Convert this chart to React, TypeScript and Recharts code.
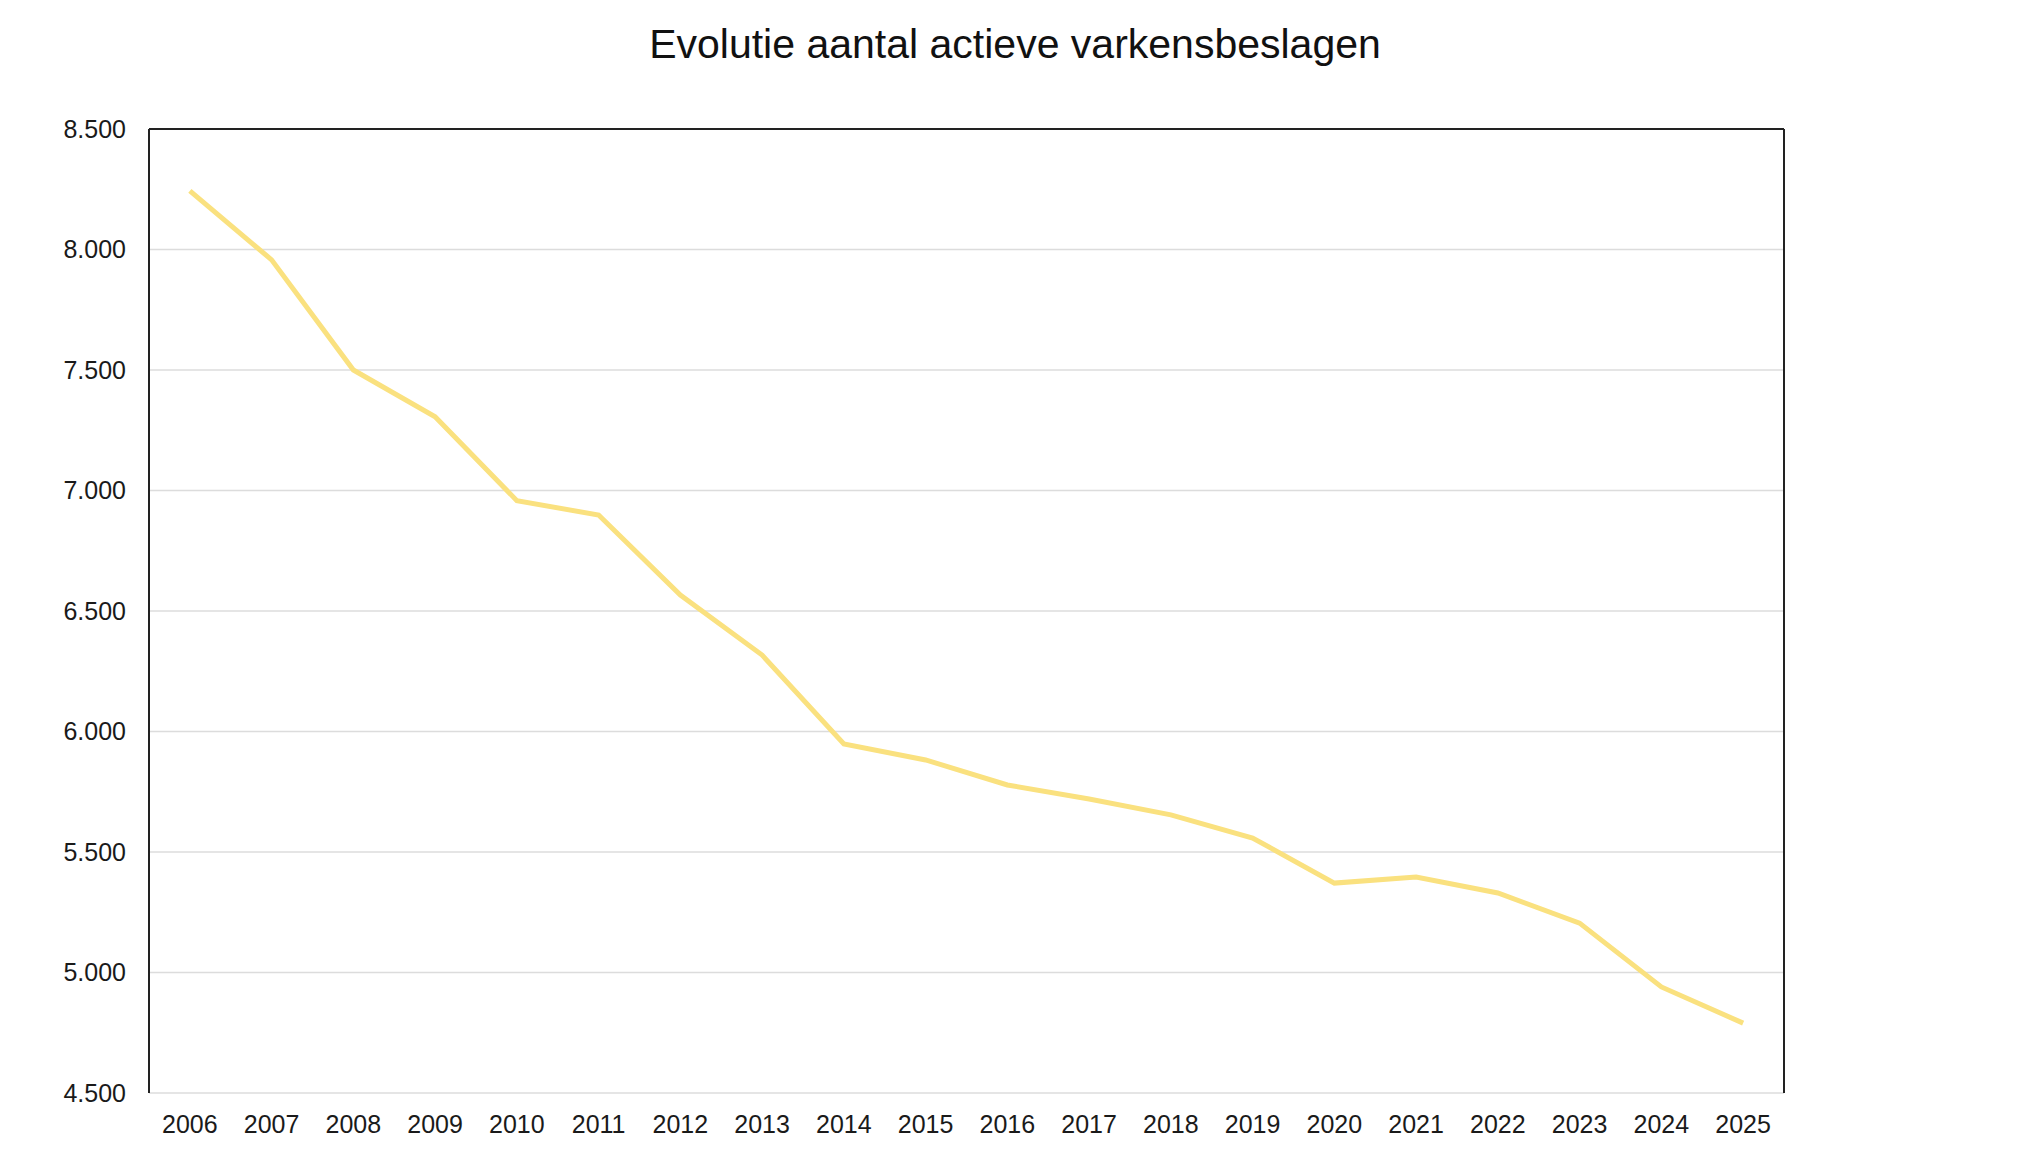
import { CartesianGrid, Line, LineChart, ReferenceLine, XAxis, YAxis } from "recharts";

// jaartallen en aantal actieve varkensbeslagen
const years = [
	"2006", "2007", "2008", "2009", "2010", "2011", "2012", "2013", "2014", "2015",
	"2016", "2017", "2018", "2019", "2020", "2021", "2022", "2023", "2024", "2025",
];
const beslagen = [
	8243, 7957, 7500, 7306, 6958, 6898, 6566, 6317, 5948, 5882,
	5778, 5720, 5654, 5558, 5371, 5396, 5330, 5205, 4940, 4790,
];
const yTicks = [4500, 5000, 5500, 6000, 6500, 7000, 7500, 8000, 8500];

const data = years.map((year, i) => ({ year, value: beslagen[i] }));

const font = '"Liberation Sans", Arial, sans-serif';

// 8500 -> "8.500"
const formatNl = (v: number) => {
	const thousands = Math.floor(v / 1000);
	const rest = String(v % 1000).padStart(3, "0");
	return `${thousands}.${rest}`;
};

export default function App() {
	return (
		<div style={{ position: "relative", width: 2030, height: 1160, background: "#fff" }}>
			<style>{"body{margin:0}"}</style>
			<div
				style={{
					position: "absolute",
					top: 24,
					left: 0,
					width: 2030,
					textAlign: "center",
					fontFamily: font,
					fontSize: 41,
					lineHeight: "41px",
					color: "#111",
				}}
			>
				Evolutie aantal actieve varkensbeslagen
			</div>
			<LineChart
				width={2030}
				height={1160}
				data={data}
				margin={{ top: 129, right: 236, bottom: 7, left: 9 }}
			>
				<CartesianGrid yAxisId="left" vertical={false} stroke="#dcdcdc" strokeWidth={1.5} />
				<XAxis
					dataKey="year"
					scale="band"
					interval={0}
					height={60}
					axisLine={false}
					tickLine={false}
					tickSize={0}
					tickMargin={22}
					tick={{ fill: "#1a1a1a", fontSize: 25, fontFamily: font }}
				/>
				<YAxis
					yAxisId="left"
					type="number"
					domain={[4500, 8500]}
					ticks={yTicks}
					width={140}
					axisLine={{ stroke: "#222", strokeWidth: 2 }}
					tickLine={false}
					tickSize={0}
					tickMargin={23}
					tickFormatter={formatNl}
					tick={{ fill: "#1a1a1a", fontSize: 25, fontFamily: font }}
				/>
				<YAxis
					yAxisId="right"
					orientation="right"
					type="number"
					domain={[4500, 8500]}
					ticks={yTicks}
					width={10}
					tick={false}
					tickLine={false}
					axisLine={{ stroke: "#222", strokeWidth: 2 }}
				/>
				<ReferenceLine yAxisId="left" y={8500} stroke="#222" strokeWidth={2} />
				<Line
					yAxisId="left"
					type="linear"
					dataKey="value"
					stroke="#fae17f"
					strokeWidth={5}
					dot={false}
					activeDot={false}
					isAnimationActive={false}
				/>
			</LineChart>
		</div>
	);
}
